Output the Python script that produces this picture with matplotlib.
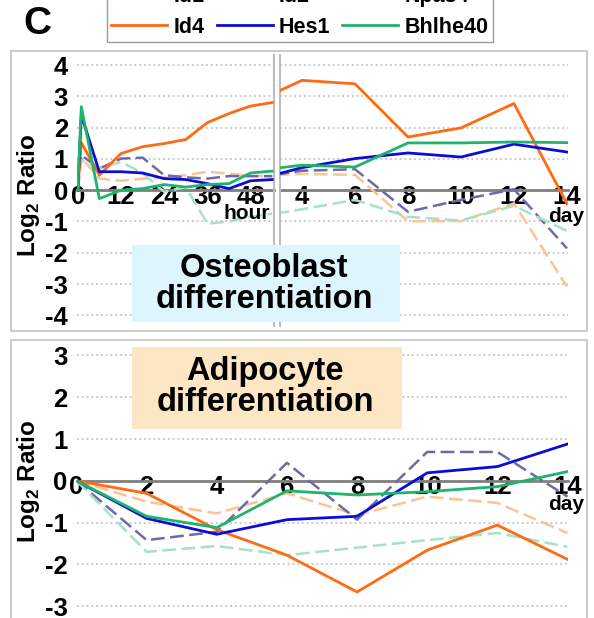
import numpy as np
import matplotlib
matplotlib.use('Agg')
import matplotlib.pyplot as plt
from matplotlib.patches import Rectangle
from matplotlib.lines import Line2D

plt.rcParams['font.family'] = ['Liberation Sans', 'DejaVu Sans']
plt.rcParams['font.weight'] = 'bold'
plt.rcParams['axes.unicode_minus'] = False
plt.rcParams['mathtext.fontset'] = 'custom'
plt.rcParams['mathtext.rm'] = 'Liberation Sans:bold'
plt.rcParams['mathtext.bf'] = 'Liberation Sans:bold'

W, H = 594, 618

genes = ['Id1', 'Id2', 'Npas4', 'Id4', 'Hes1', 'Bhlhe40']
colors = ['#fcc396', '#6b6ba6', '#a8e0c8', '#ff6a13', '#0c0cd8', '#1eb46c']
styles = ['--', '--', '--', '-', '-', '-']

# osteoblast, early part (hours)
ost_hours = [0, 1, 6, 12, 18, 24, 30, 36, 42, 48, 54]
ost_hour_vals = {
    'Id1':     [0, 1.05, 0.37, 0.30, 0.37, 0.40, 0.48, 0.59, 0.53, 0.45, 0.45],
    'Id2':     [0, 1.12, 0.69, 1.01, 1.04, 0.48, 0.41, 0.37, 0.45, 0.45, 0.45],
    'Npas4':   [0, 0.95, 0.70, 0.90, 0.55, -0.05, 0.10, -1.07, -1.00, -0.85, -0.75],
    'Id4':     [0, 1.52, 0.48, 1.17, 1.39, 1.49, 1.62, 2.16, 2.45, 2.69, 2.80],
    'Hes1':    [0, 2.40, 0.59, 0.59, 0.55, 0.37, 0.34, 0.21, 0.05, 0.30, 0.34],
    'Bhlhe40': [0, 2.67, -0.27, 0.00, 0.05, 0.18, 0.10, 0.18, 0.21, 0.55, 0.61],
}

# osteoblast, late part (days)
ost_days = [3, 4, 6, 8, 10, 12, 14]
ost_day_vals = {
    'Id1':     [0.48, 0.52, 0.49, -0.99, -0.99, -0.42, -3.08],
    'Id2':     [0.50, 0.62, 0.67, -0.69, -0.31, 0.03, -1.86],
    'Npas4':   [-0.75, -0.61, -0.31, -0.85, -0.97, -0.50, -1.30],
    'Id4':     [3.12, 3.51, 3.40, 1.70, 1.99, 2.77, -0.43],
    'Hes1':    [0.50, 0.72, 1.01, 1.19, 1.06, 1.47, 1.22],
    'Bhlhe40': [0.70, 0.80, 0.74, 1.51, 1.51, 1.54, 1.52],
}

# adipocyte (days)
adi_days = [0, 2, 4, 6, 8, 10, 12, 14]
adi_vals = {
    'Id1':     [0, -0.50, -0.78, -0.30, -0.82, -0.38, -0.53, -1.25],
    'Id2':     [0, -1.42, -1.22, 0.43, -0.93, 0.69, 0.69, -0.38],
    'Npas4':   [0, -1.70, -1.56, -1.78, -1.60, -1.42, -1.25, -1.58],
    'Id4':     [0, -0.30, -1.17, -1.78, -2.66, -1.66, -1.06, -1.88],
    'Hes1':    [0, -0.90, -1.28, -0.93, -0.85, 0.19, 0.34, 0.88],
    'Bhlhe40': [0, -0.85, -1.12, -0.24, -0.34, -0.26, -0.14, 0.22],
}

hour_ticks = [0, 12, 24, 36, 48]
day_ticks_top = [4, 6, 8, 10, 12, 14]
day_ticks_bot = [0, 2, 4, 6, 8, 10, 12, 14]


def box(x0, y0, x1, y1):
    # pixel box (top-left origin) -> figure rect
    return [x0 / W, 1 - y1 / H, (x1 - x0) / W, (y1 - y0) / H]


def fxy(x, y):
    return x / W, 1 - y / H


def draw(ax, x, vals):
    for g, c, s in zip(genes, colors, styles):
        if s == '--':
            ax.plot(x, vals[g], color=c, lw=1.8, ls=(0, (5.5, 2.2)), zorder=2)
    for g, c, s in zip(genes, colors, styles):
        if s == '-':
            ax.plot(x, vals[g], color=c, lw=2.0, zorder=3)


def style(ax, yticks):
    ax.set_yticks(yticks)
    ax.yaxis.grid(True, color='#c4c4c4', ls=':', lw=1.3)
    ax.set_axisbelow(True)
    ax.spines['top'].set_visible(False)
    ax.spines['bottom'].set_position(('data', 0))
    ax.spines['bottom'].set_color('#7f7f7f')
    ax.spines['bottom'].set_linewidth(2)
    ax.spines['bottom'].set_zorder(1.5)
    ax.tick_params(length=0, labelsize=18.5)
    ax.tick_params(axis='x', pad=-4)
    ax.tick_params(axis='y', pad=6.5)
    ax.patch.set_visible(False)


fig = plt.figure(figsize=(W / 100, H / 100), dpi=100)

# panel frames
for (x0, y0, x1, y1) in [(11, 51, 587, 331), (11, 340, 587, 622)]:
    r = box(x0, y0, x1, y1)
    fig.add_artist(Rectangle(r[:2], r[2], r[3], transform=fig.transFigure,
                             fill=False, ec='#cdcdcd', lw=1.5, zorder=0))

# top left (hours)
ax1 = fig.add_axes(box(77, 55, 274, 326))
draw(ax1, ost_hours, ost_hour_vals)
ax1.set_xlim(-0.2, 54.5)
ax1.set_ylim(-4.34, 4.32)
style(ax1, range(-4, 5))
ax1.set_xticks(hour_ticks)
ax1.spines['left'].set_visible(False)
ax1.spines['right'].set_color('#bdbdbd')
ax1.spines['right'].set_linewidth(1.5)

# top right (days)
ax2 = fig.add_axes(box(280, 55, 568, 326))
draw(ax2, ost_days, ost_day_vals)
ax2.set_xlim(3.17, 14.04)
ax2.set_ylim(-4.34, 4.32)
style(ax2, range(-4, 5))
ax2.set_xticks(day_ticks_top)
ax2.tick_params(axis='y', labelleft=False)
ax2.spines['right'].set_visible(False)
ax2.spines['left'].set_color('#bdbdbd')
ax2.spines['left'].set_linewidth(1.5)

# bottom (adipocyte)
ax3 = fig.add_axes(box(76.5, 350, 567.5, 612))
draw(ax3, adi_days, adi_vals)
ax3.set_xlim(0, 14)
ax3.set_ylim(-3.14, 3.13)
style(ax3, range(-3, 4))
ax3.set_xticks(day_ticks_bot)
ax3.spines['left'].set_visible(False)
ax3.spines['right'].set_visible(False)

# title boxes
for (x0, y0, x1, y1), fc, txt, cy in [((132, 245, 400, 322), '#ddf5fc', 'Osteoblast\ndifferentiation', 284),
                                       ((132, 347, 402, 429), '#fde6c3', 'Adipocyte\ndifferentiation', 387)]:
    r = box(x0, y0, x1, y1)
    fig.add_artist(Rectangle(r[:2], r[2], r[3], transform=fig.transFigure, fc=fc, ec='none', zorder=4))
    fig.text(*fxy((x0 + x1) / 2 - 2, cy), txt, ha='center', va='center', fontsize=23.5,
             linespacing=1.0, zorder=5)

# unit labels
fig.text(*fxy(247, 213), 'hour', ha='center', va='center', fontsize=15)
fig.text(*fxy(566, 216), 'day', ha='center', va='center', fontsize=15)
fig.text(*fxy(566, 504), 'day', ha='center', va='center', fontsize=15)

# y labels
for yc in [195, 481]:
    fig.text(*fxy(28, yc), r'Log$_\mathbf{2}$ Ratio', rotation=90, ha='center', va='center', fontsize=17.5)

fig.text(*fxy(37, 24), 'C', ha='center', va='center', fontsize=28)

# legend (column-wise order)
handles = [Line2D([], [], color=c, lw=2) for c in colors]
order = [0, 3, 1, 4, 2, 5]
fig.legend([handles[i] for i in order], [genes[i] for i in order], ncol=3,
           loc='lower left', bbox_to_anchor=fxy(107, 42), fontsize=15.5,
           frameon=True, fancybox=False, edgecolor='#9a9a9a', framealpha=1,
           handlelength=2.6, handletextpad=0.3, columnspacing=0.55,
           labelspacing=0.45, borderpad=0.2, borderaxespad=0)

fig.savefig('out.png', dpi=100)
